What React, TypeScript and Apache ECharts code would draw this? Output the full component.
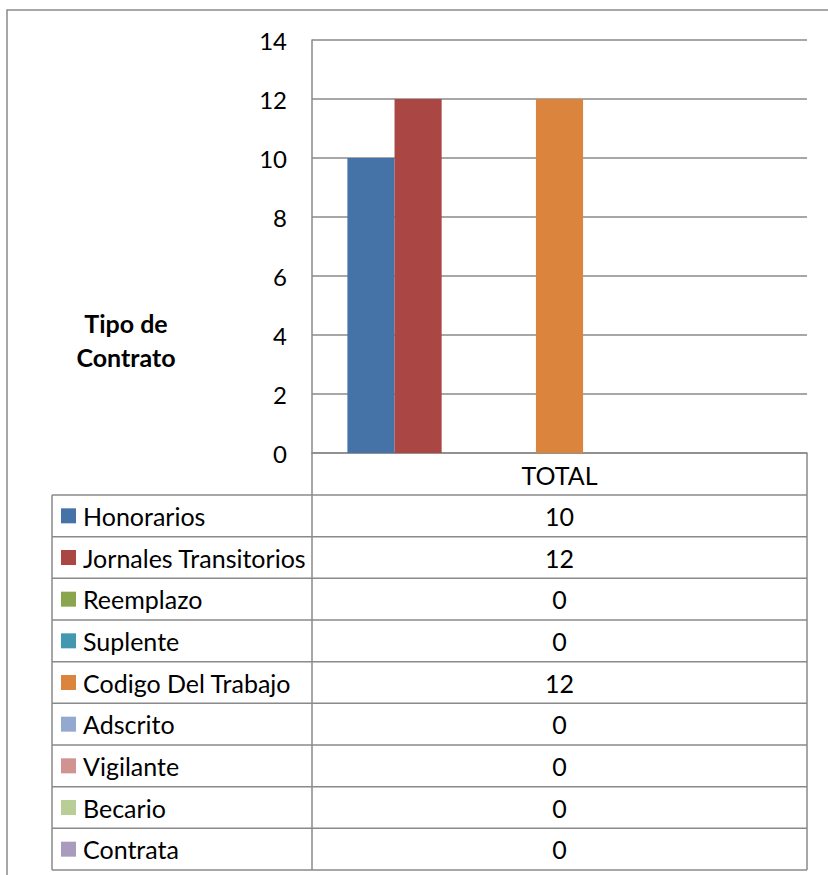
import React, { useEffect, useRef } from "react";
import * as echarts from "echarts";

const categories = ["TOTAL"];
const seriesNames = [
  "Honorarios",
  "Jornales Transitorios",
  "Reemplazo",
  "Suplente",
  "Codigo Del Trabajo",
  "Adscrito",
  "Vigilante",
  "Becario",
  "Contrata",
];
const seriesValues = [10, 12, 0, 0, 12, 0, 0, 0, 0];
const seriesColors = [
  "#4572A7",
  "#AA4643",
  "#89A54E",
  "#4198AF",
  "#DB843D",
  "#93A9CF",
  "#D19392",
  "#B9CD96",
  "#A99BBD",
];
const yMin = 0;
const yMax = 14;
const yInterval = 2;
const axisTitleLines = ["Tipo de", "Contrato"];

const FONT = "Lato, 'Open Sans', sans-serif";
const LINE = "#8a8a8a";

export default function App() {
  const ref = useRef<HTMLDivElement>(null);

  useEffect(() => {
    if (!ref.current) return;
    const chart = echarts.init(ref.current, undefined, { renderer: "svg" });

    const W = 828;
    const H = 875;
    const gridLeft = 312;
    const gridTop = 40;
    const gridRight = 807;
    const gridBottom = 453;
    const tableTop = 495;
    const tableBottom = 870;
    const tableLeft = 52;
    const rowH = (tableBottom - tableTop) / seriesNames.length;
    const valueX = (gridLeft + gridRight) / 2;
    const fontSize = 24;
    const tableFont = 25;

    const graphics: any[] = [];
    graphics.push({
      type: "polyline",
      shape: { points: [[7, H + 5], [7, 10], [W + 5, 10]] },
      style: { stroke: LINE, lineWidth: 1.5, fill: "none" },
      silent: true,
    });
    for (let i = 0; i <= seriesNames.length; i++) {
      const y = tableTop + i * rowH;
      graphics.push({
        type: "line",
        shape: { x1: tableLeft, y1: y, x2: gridRight, y2: y },
        style: { stroke: LINE, lineWidth: 1.5 },
        silent: true,
      });
    }
    graphics.push({
      type: "line",
      shape: { x1: tableLeft, y1: tableTop, x2: tableLeft, y2: tableBottom },
      style: { stroke: LINE, lineWidth: 1.5 },
      silent: true,
    });
    graphics.push({
      type: "line",
      shape: { x1: gridLeft, y1: gridBottom, x2: gridLeft, y2: tableBottom },
      style: { stroke: LINE, lineWidth: 1.5 },
      silent: true,
    });
    graphics.push({
      type: "line",
      shape: { x1: gridRight, y1: gridBottom, x2: gridRight, y2: tableBottom },
      style: { stroke: LINE, lineWidth: 1.5 },
      silent: true,
    });
    seriesNames.forEach((name, i) => {
      const yc = tableTop + i * rowH + rowH / 2;
      graphics.push({
        type: "rect",
        shape: { x: 61, y: yc - 7.5, width: 15, height: 15 },
        style: { fill: seriesColors[i] },
        silent: true,
      });
      graphics.push({
        type: "text",
        x: 83,
        y: yc,
        style: {
          text: name,
          fill: "#000",
          font: `${tableFont}px ${FONT}`,
          textAlign: "left",
          textVerticalAlign: "middle",
        },
        silent: true,
      });
      graphics.push({
        type: "text",
        x: valueX,
        y: yc,
        style: {
          text: String(seriesValues[i]),
          fill: "#000",
          font: `${tableFont}px ${FONT}`,
          textAlign: "center",
          textVerticalAlign: "middle",
        },
        silent: true,
      });
    });
    axisTitleLines.forEach((t, i) => {
      graphics.push({
        type: "text",
        x: 126,
        y: 323 + i * 34,
        style: {
          text: t,
          fill: "#000",
          font: `bold ${tableFont}px ${FONT}`,
          textAlign: "center",
          textVerticalAlign: "middle",
        },
        silent: true,
      });
    });

    chart.setOption({
      animation: false,
      backgroundColor: "#ffffff",
      grid: {
        left: gridLeft,
        top: gridTop,
        width: gridRight - gridLeft,
        height: gridBottom - gridTop,
        containLabel: false,
      },
      xAxis: {
        type: "category",
        data: categories,
        axisLine: { show: true, lineStyle: { color: LINE, width: 1.5 } },
        axisTick: { show: false },
        axisLabel: {
          show: true,
          color: "#000",
          fontFamily: FONT,
          fontSize: tableFont,
          margin: 9,
        },
        splitLine: { show: false },
      },
      yAxis: {
        type: "value",
        min: yMin,
        max: yMax,
        interval: yInterval,
        axisLine: { show: true, lineStyle: { color: LINE, width: 1.5 } },
        axisTick: { show: false },
        axisLabel: {
          color: "#000",
          fontFamily: FONT,
          fontSize: fontSize,
          margin: 25,
        },
        splitLine: { show: true, lineStyle: { color: LINE, width: 1.5 } },
      },
      series: seriesNames.map((name, i) => ({
        name,
        type: "bar",
        data: [seriesValues[i]],
        barGap: "0%",
        barCategoryGap: "14.3%",
        itemStyle: { color: seriesColors[i] },
        silent: true,
      })),
      graphic: graphics,
    });

    return () => chart.dispose();
  }, []);

  return (
    <div
      ref={ref}
      style={{ position: "fixed", left: 0, top: 0, width: 828, height: 875, background: "#fff" }}
    />
  );
}
